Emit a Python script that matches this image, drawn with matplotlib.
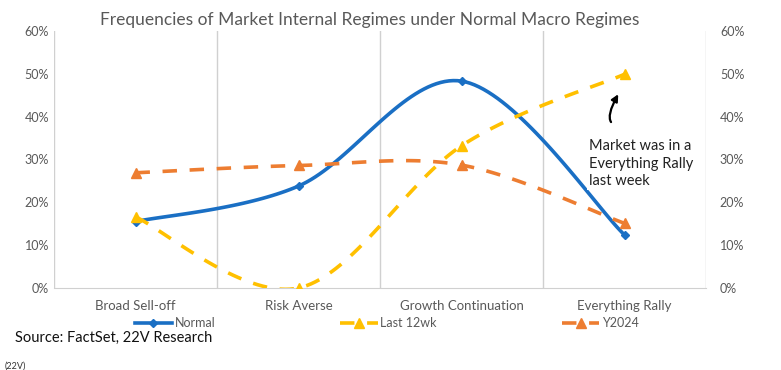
import numpy as np
import matplotlib
matplotlib.use('Agg')
import matplotlib.pyplot as plt
from matplotlib.ticker import PercentFormatter

plt.rcParams['font.family'] = ['Lato', 'DejaVu Sans']

# data
categories = ['Broad Sell-off', 'Risk Averse', 'Growth Continuation', 'Everything Rally']
normal = [15.5, 23.8, 48.3, 12.4]
last_12wk = [16.6, 0.0, 33.2, 49.9]
y2024 = [26.9, 28.6, 28.7, 15.1]
y_ticks = [0, 10, 20, 30, 40, 50, 60]

GRAY = '#595959'
GRID = '#d0d0d0'


def smooth(xs, ys, n=40):
    # Excel-style bezier smoothing through the points
    xs = np.asarray(xs, float)
    ys = np.asarray(ys, float)
    px = np.concatenate([[xs[0]], xs, [xs[-1]]])
    py = np.concatenate([[ys[0]], ys, [ys[-1]]])
    out_x, out_y = [], []
    t = np.linspace(0, 1, n)
    for i in range(1, len(px) - 2):
        p0 = np.array([px[i], py[i]])
        p3 = np.array([px[i + 1], py[i + 1]])
        c1 = p0 + (np.array([px[i + 1], py[i + 1]]) - np.array([px[i - 1], py[i - 1]])) / 6
        c2 = p3 - (np.array([px[i + 2], py[i + 2]]) - np.array([px[i], py[i]])) / 6
        bx = (1 - t) ** 3 * p0[0] + 3 * (1 - t) ** 2 * t * c1[0] + 3 * (1 - t) * t ** 2 * c2[0] + t ** 3 * p3[0]
        by = (1 - t) ** 3 * p0[1] + 3 * (1 - t) ** 2 * t * c1[1] + 3 * (1 - t) * t ** 2 * c2[1] + t ** 3 * p3[1]
        out_x.extend(bx)
        out_y.extend(by)
    return np.array(out_x), np.array(out_y)


fig = plt.figure(figsize=(7.81, 3.70), dpi=100)
ax = fig.add_axes([54 / 781, 1 - 288 / 370, (706 - 54) / 781, (288 - 31) / 370])

x = np.arange(len(categories))
series = [
    (normal, 'Normal', '#1a6fc4', '-', 'D', 4.5),
    (last_12wk, 'Last 12wk', '#ffc000', (0, (4, 3.5)), '^', 7),
    (y2024, 'Y2024', '#ed7d31', (0, (4, 3.5)), '^', 7),
]
for vals, name, col, ls, mk, ms in series:
    sx, sy = smooth(x, vals)
    ax.plot(sx, sy, color=col, lw=2.6, ls=ls, zorder=3)
    ax.plot(x, vals, ls='none', marker=mk, color=col, ms=ms, zorder=4)
    ax.plot([], [], color=col, lw=2.6, ls=ls, marker=mk, ms=ms, label=name)

ax.set_xlim(-0.5, 3.5)
ax.set_ylim(0, 60)
ax.set_yticks(y_ticks)
ax.yaxis.set_major_formatter(PercentFormatter(decimals=0))
ax.set_xticks(x)
ax.set_xticklabels(categories)

# vertical separators between categories
for b in np.arange(-0.5, 4.0, 1.0):
    ax.axvline(b, color=GRID, lw=1, zorder=1)

for s in ['top', 'left', 'right']:
    ax.spines[s].set_visible(False)
ax.spines['bottom'].set_color(GRID)
ax.tick_params(axis='both', length=0, colors=GRAY, labelsize=9)
ax.tick_params(axis='x', pad=9, labelsize=9.5)

ax2 = ax.twinx()
ax2.set_ylim(0, 60)
ax2.set_yticks(y_ticks)
ax2.yaxis.set_major_formatter(PercentFormatter(decimals=0))
for s in ['top', 'left', 'right', 'bottom']:
    ax2.spines[s].set_visible(False)
ax2.tick_params(axis='y', length=0, colors=GRAY, labelsize=9, pad=10)

fig.text(370 / 781, 0.945, 'Frequencies of Market Internal Regimes under Normal Macro Regimes',
         ha='center', va='center', fontsize=12.5, color=GRAY)

# annotation
ax2.text(2.78, 29.0, 'Market was in a\nEverything Rally\nlast week', fontsize=10.5,
         va='center', ha='left', color='#222222', linespacing=1.3,
         bbox=dict(facecolor='white', edgecolor='none', pad=1), zorder=5)
ax2.annotate('', xy=(2.97, 45.8), xytext=(2.93, 38.3),
             arrowprops=dict(arrowstyle='-|>', color='black', lw=1.6,
                             connectionstyle='angle3,angleA=150,angleB=60', mutation_scale=10))

leg = fig.legend(loc='center', bbox_to_anchor=(0.495, 1 - 323 / 370), ncol=3, frameon=False,
                 fontsize=9, columnspacing=10, handlelength=3, handletextpad=0.2)
for t in leg.get_texts():
    t.set_color(GRAY)

fig.text(15 / 781, 1 - 338 / 370, 'Source: FactSet, 22V Research', fontsize=10.5,
         va='center', color='#111111')
fig.text(5 / 781, 1 - 366 / 370, '(22V)', fontsize=6.5, va='center', color='#333333')

fig.savefig('out.png', dpi=100)
